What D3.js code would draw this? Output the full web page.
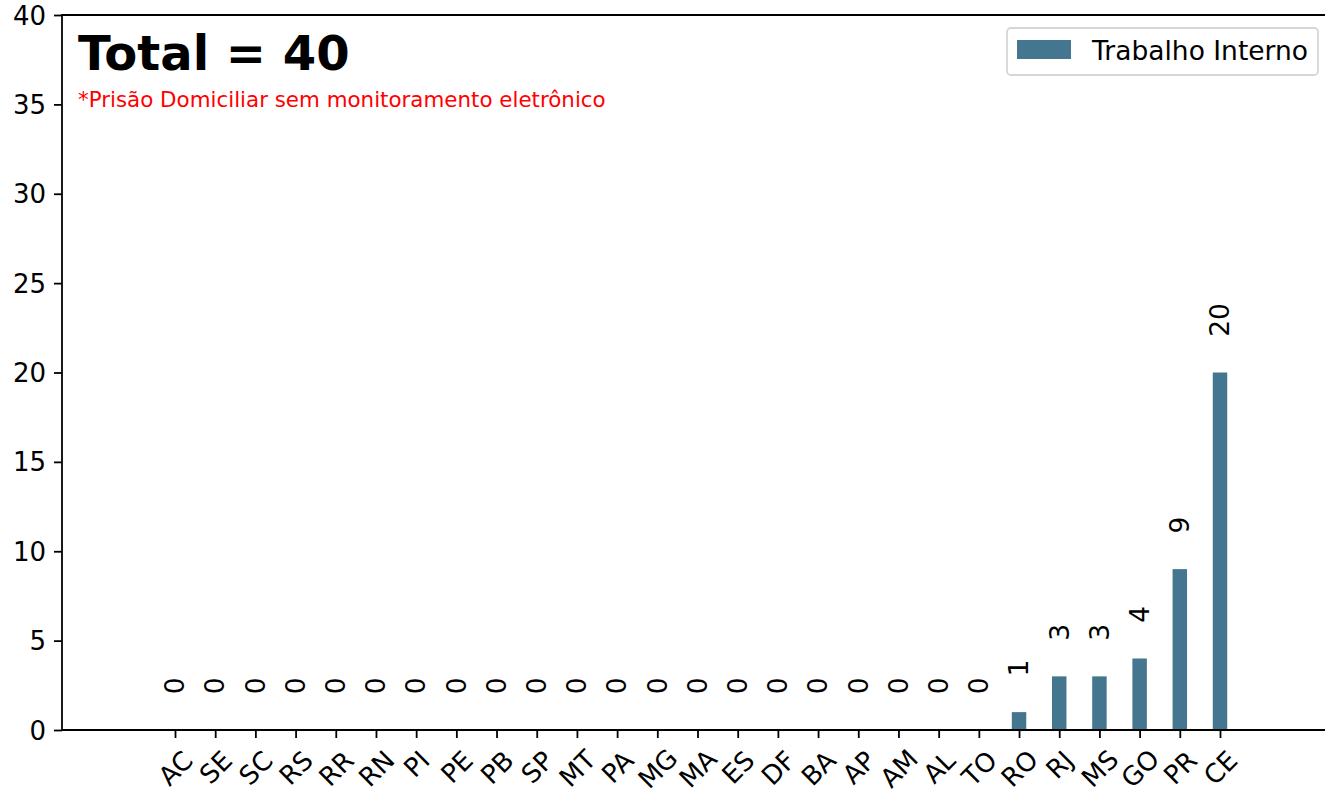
<!DOCTYPE html>
<html>
<head>
<meta charset="utf-8">
<script src="https://cdn.jsdelivr.net/npm/d3@7"></script>
<style>
  html, body { margin: 0; padding: 0; background: #fff; }
  svg { display: block; font-family: "DejaVu Sans", sans-serif; }
</style>
</head>
<body>
<svg id="chart" width="1325" height="792"></svg>
<script>
// ---- data ----
const states = ["AC","SE","SC","RS","RR","RN","PI","PE","PB","SP","MT","PA","MG","MA","ES","DF","BA","AP","AM","AL","TO","RO","RJ","MS","GO","PR","CE"];
const trabalhoInterno = [0,0,0,0,0,0,0,0,0,0,0,0,0,0,0,0,0,0,0,0,0,1,3,3,4,9,20];
const yTicks = [0,5,10,15,20,25,30,35,40];
const seriesName = "Trabalho Interno";
const totalLabel = "Total = 40";
const noteLabel = "*Prisão Domiciliar sem monitoramento eletrônico";

// ---- layout ----
const W = 1325, H = 792;
const axL = 62, axR = 1330, axT = 15, axB = 730;
const barColor = "#45768f";
const svg = d3.select("#chart");

const x = d3.scalePoint().domain(states).range([175, 1220]);
const step = x.step();
const barW = step * 0.36;
const y = d3.scaleLinear().domain([0, 40]).range([axB, axT]);

// bars
svg.append("g").selectAll("rect").data(states).join("rect")
  .attr("x", d => x(d) - barW / 2)
  .attr("y", (d, i) => y(trabalhoInterno[i]))
  .attr("width", barW)
  .attr("height", (d, i) => y(0) - y(trabalhoInterno[i]))
  .attr("fill", barColor);

// bar value labels
svg.append("g").selectAll("text").data(states).join("text")
  .attr("transform", (d, i) => `translate(${x(d)},${y(trabalhoInterno[i] + 2)}) rotate(-90)`)
  .attr("text-anchor", "start")
  .attr("dy", "0.35em")
  .attr("font-size", 26.5)
  .attr("fill", "#000")
  .text((d, i) => trabalhoInterno[i]);

// y axis
const fsy = 26;
const yAxis = d3.axisLeft(y).tickValues(yTicks).tickSize(8).tickPadding(8);
const gy = svg.append("g").attr("transform", `translate(${axL},0)`).call(yAxis);
gy.select(".domain").remove();
gy.selectAll(".tick line").attr("stroke", "#000").attr("stroke-width", 1.8);
gy.selectAll(".tick text").attr("font-size", fsy).attr("fill", "#000")
  .attr("font-family", "DejaVu Sans").attr("dy", "0.35em");

// x axis
const fsx = 26;
const xAxis = d3.axisBottom(x).tickSize(8).tickPadding(8);
const gx = svg.append("g").attr("transform", `translate(0,${axB})`).call(xAxis);
gx.select(".domain").remove();
gx.selectAll(".tick line").attr("stroke", "#000").attr("stroke-width", 1.8);
gx.selectAll(".tick text")
  .attr("font-size", fsx).attr("fill", "#000").attr("font-family", "DejaVu Sans")
  .attr("y", null).attr("dy", null)
  .each(function() {
    const t = d3.select(this);
    t.attr("text-anchor", "middle");
    const w = this.getComputedTextLength();
    const lineH = 1.164 * fsx;
    const bh = (w + lineH) * Math.SQRT1_2;
    const cy = Math.min(8 + 7 + bh / 2, 38.5);
    t.attr("transform", `translate(0,${cy}) rotate(-45)`).attr("dy", "0.35em");
  });

// spines
const sp = svg.append("g").attr("stroke", "#000").attr("stroke-width", 1.8).attr("fill", "none");
sp.append("line").attr("x1", axL).attr("x2", axL).attr("y1", axT - 0.9).attr("y2", axB + 0.9);
sp.append("line").attr("x1", axL).attr("x2", axR).attr("y1", axB).attr("y2", axB);
sp.append("line").attr("x1", axL).attr("x2", axR).attr("y1", axT).attr("y2", axT);

// title & note
svg.append("text").attr("x", 78).attr("y", 70)
  .attr("font-size", 48).attr("font-weight", "bold").attr("fill", "#000").text(totalLabel);
svg.append("text").attr("x", 78).attr("y", 107)
  .attr("font-size", 21.4).attr("fill", "#ff0000").text(noteLabel);

// legend
const lg = svg.append("g");
lg.append("rect").attr("x", 1007).attr("y", 28).attr("width", 311).attr("height", 47)
  .attr("rx", 4).attr("fill", "#fff").attr("fill-opacity", 0.8)
  .attr("stroke", "#d6d6d6").attr("stroke-width", 1.8);
lg.append("rect").attr("x", 1017).attr("y", 40).attr("width", 54).attr("height", 19).attr("fill", barColor);
lg.append("text").attr("x", 1092).attr("y", 60).attr("font-size", 26.5).attr("fill", "#000").text(seriesName);
</script>
</body>
</html>
